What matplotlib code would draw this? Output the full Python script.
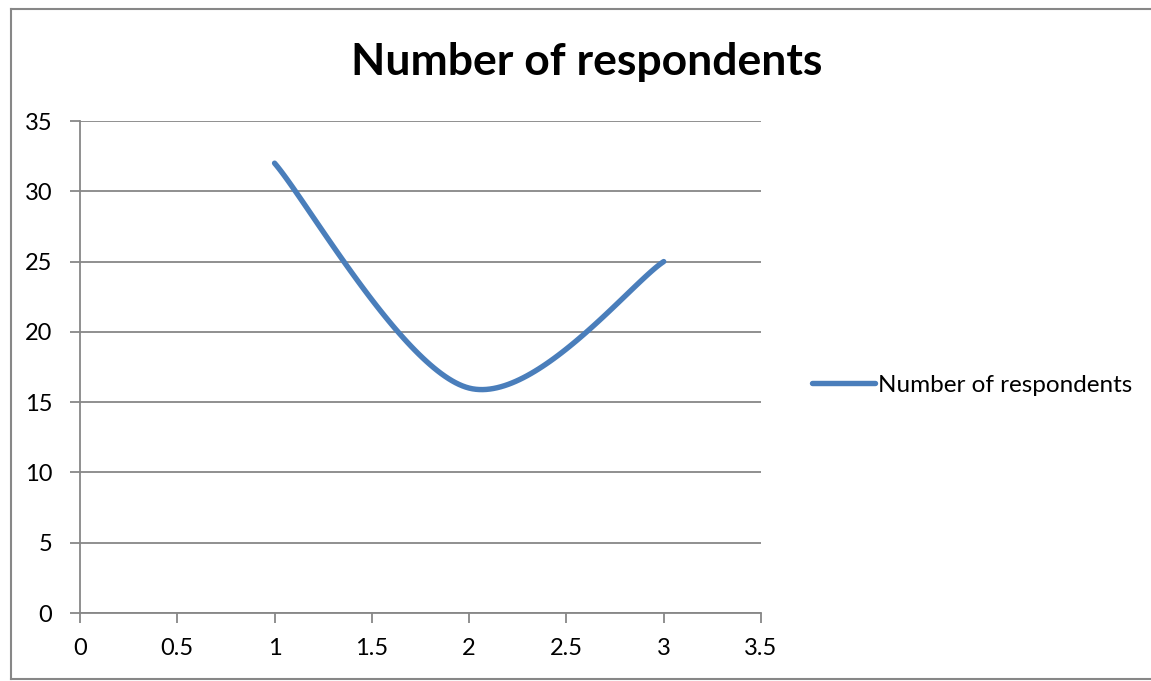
import matplotlib
matplotlib.use("Agg")
import matplotlib.pyplot as plt
import numpy as np

# survey data
x_vals = [1, 2, 3]
respondents = [32, 16, 25]
series_name = "Number of respondents"
x_ticks = [0, 0.5, 1, 1.5, 2, 2.5, 3, 3.5]
y_ticks = [0, 5, 10, 15, 20, 25, 30, 35]

plt.rcParams['font.family'] = ['Lato', 'DejaVu Sans']
W, H = 1151, 681
fig = plt.figure(figsize=(W / 100, H / 100), dpi=100)

grey = '#878787'
blue = '#4A7EBB'


def smooth(xs, ys, n=60):
    # spreadsheet-style smoothed line: cubic bezier with catmull-rom tangents
    p = np.column_stack([xs, ys]).astype(float)
    p_ext = np.vstack([p[0], p, p[-1]])
    out = []
    for i in range(len(p) - 1):
        p0, p1, p2, p3 = p_ext[i], p_ext[i + 1], p_ext[i + 2], p_ext[i + 3]
        c1 = p1 + (p2 - p0) / 6
        c2 = p2 - (p3 - p1) / 6
        t = np.linspace(0, 1, n)[:, None]
        seg = ((1 - t) ** 3 * p1 + 3 * (1 - t) ** 2 * t * c1
               + 3 * (1 - t) * t ** 2 * c2 + t ** 3 * p2)
        out.append(seg if i == 0 else seg[1:])
    out = np.vstack(out)
    return out[:, 0], out[:, 1]


ax = fig.add_axes([80 / W, (H - 613) / H, (761 - 80) / W, (613 - 121) / H])
sx, sy = smooth(x_vals, respondents)
ax.plot(sx, sy, color=blue, lw=3.9, solid_capstyle='round', label=series_name)

ax.set_xlim(0, 3.5)
ax.set_ylim(0, 35)
ax.set_xticks(x_ticks)
ax.set_xticklabels([f"{v:g}" for v in x_ticks])
ax.set_yticks(y_ticks)
ax.yaxis.grid(True, color=grey, lw=1.3)
ax.set_axisbelow(True)
for s in ['top', 'right']:
    ax.spines[s].set_visible(False)
for s in ['left', 'bottom']:
    ax.spines[s].set_color(grey)
    ax.spines[s].set_linewidth(1.3)
ax.tick_params(axis='both', colors=grey, labelcolor='black', labelsize=17,
               length=7, width=1.3)
ax.tick_params(axis='y', pad=13)
ax.tick_params(axis='x', pad=11)

fig.text(587 / W, 1 - 62 / H, series_name, ha='center', va='center',
         fontsize=32, fontweight='bold')

leg = fig.legend(loc='center left', bbox_to_anchor=(812 / W, 1 - 385 / H),
                 frameon=False, fontsize=17.5, handlelength=2.6, handletextpad=0.1,
                 borderaxespad=0, borderpad=0)

# outer chart frame
fig.add_artist(plt.Line2D([11 / W, 11 / W], [1 - 9 / H, 1 - 679 / H],
                          color=grey, lw=1.5, transform=fig.transFigure))
fig.add_artist(plt.Line2D([11 / W, 1], [1 - 9 / H, 1 - 9 / H],
                          color=grey, lw=1.5, transform=fig.transFigure))
fig.add_artist(plt.Line2D([11 / W, 1], [1 - 679 / H, 1 - 679 / H],
                          color=grey, lw=1.5, transform=fig.transFigure))

fig.savefig('out.png', dpi=100)
